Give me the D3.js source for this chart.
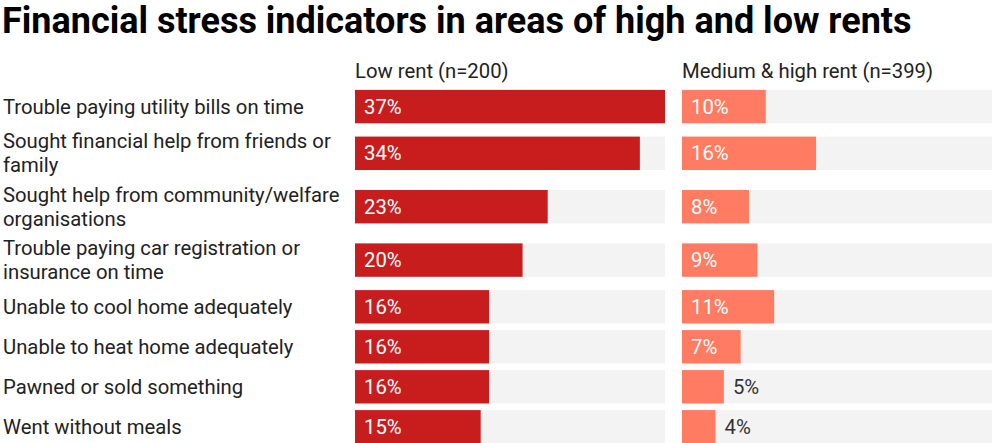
<!DOCTYPE html>
<html><head><meta charset="utf-8">
<script src="https://cdn.jsdelivr.net/npm/d3@7"></script>
<style>
html,body{margin:0;padding:0;background:#fff;}
svg{display:block;font-family:Roboto,"Noto Sans",sans-serif;}
</style></head>
<body>
<svg id="chart" width="1000" height="443"></svg>
<script>
const title = "Financial stress indicators in areas of high and low rents";
const categories = [
  "Trouble paying utility bills on time",
  "Sought financial help from friends or family",
  "Sought help from community/welfare organisations",
  "Trouble paying car registration or insurance on time",
  "Unable to cool home adequately",
  "Unable to heat home adequately",
  "Pawned or sold something",
  "Went without meals"
];
const seriesNames = ["Low rent (n=200)", "Medium & high rent (n=399)"];
const lowRent = [37, 34, 23, 20, 16, 16, 16, 15];
const medHighRent = [10, 16, 8, 9, 11, 7, 5, 4];
const series = [lowRent, medHighRent];
const colors = ["#c71e1d", "#ff7b61"];

const svg = d3.select("#chart");

svg.append("text").attr("x", 2).attr("y", 33)
  .attr("font-size", 36).attr("font-weight", 700).attr("fill", "#000")
  .text(title);

const fs = 20.3;
// wrap labels
const labelMax = 342;
const measure = svg.append("text").attr("font-size", fs).attr("visibility", "hidden");
function wrap(str) {
  const words = str.split(" ");
  const lines = [];
  let cur = "";
  words.forEach(w => {
    const t = cur ? cur + " " + w : w;
    measure.text(t);
    if (measure.node().getComputedTextLength() > labelMax && cur) {
      lines.push(cur); cur = w;
    } else cur = t;
  });
  if (cur) lines.push(cur);
  return lines;
}
const wrapped = categories.map(wrap);
measure.remove();

// row layout
const lineExtra = 13.4;
const baseRow = 40;
let acc = 86.6;
const centers = wrapped.map(lines => {
  const h = baseRow + (lines.length - 1) * lineExtra;
  const c = acc + h / 2;
  acc += h;
  return c;
});
const y = d3.scaleOrdinal().domain(categories).range(centers);
const barH = 33.4;

const panelX = [355, 682];
const panelW = 310;
const x = d3.scaleLinear().domain([0, d3.max(lowRent.concat(medHighRent))]).range([0, panelW]);

// labels
const lineH = 24;
categories.forEach((c, i) => {
  const lines = wrapped[i];
  const t = svg.append("text").attr("x", 3).attr("font-size", fs).attr("fill", "#222");
  const first = y(c) - (lines.length - 1) * lineH / 2;
  lines.forEach((l, j) => {
    t.append("tspan").attr("x", 3).attr("y", first + j * lineH).attr("dy", "0.35em").text(l);
  });
});

series.forEach((vals, s) => {
  const g = svg.append("g").attr("transform", `translate(${panelX[s]},0)`);
  g.append("text").attr("x", 0).attr("y", 78).attr("font-size", fs).attr("fill", "#222")
    .text(seriesNames[s]);
  g.selectAll("rect.bg").data(categories).join("rect").attr("class", "bg")
    .attr("x", 0).attr("y", d => y(d) - barH / 2).attr("width", panelW).attr("height", barH)
    .attr("fill", "#f3f3f3");
  g.selectAll("rect.bar").data(vals).join("rect").attr("class", "bar")
    .attr("x", 0).attr("y", (d, i) => y(categories[i]) - barH / 2)
    .attr("width", d => x(d)).attr("height", barH).attr("fill", colors[s]);
  g.selectAll("text.val").data(vals).join("text").attr("class", "val")
    .attr("font-size", fs)
    .attr("y", (d, i) => y(categories[i])).attr("dy", "0.35em")
    .text(d => d + "%")
    .each(function(d) {
      const w = this.getComputedTextLength();
      const inside = x(d) >= w + 18;
      d3.select(this).attr("x", inside ? 9 : x(d) + 9).attr("fill", inside ? "#fff" : "#333");
    });
});
</script>
</body></html>
